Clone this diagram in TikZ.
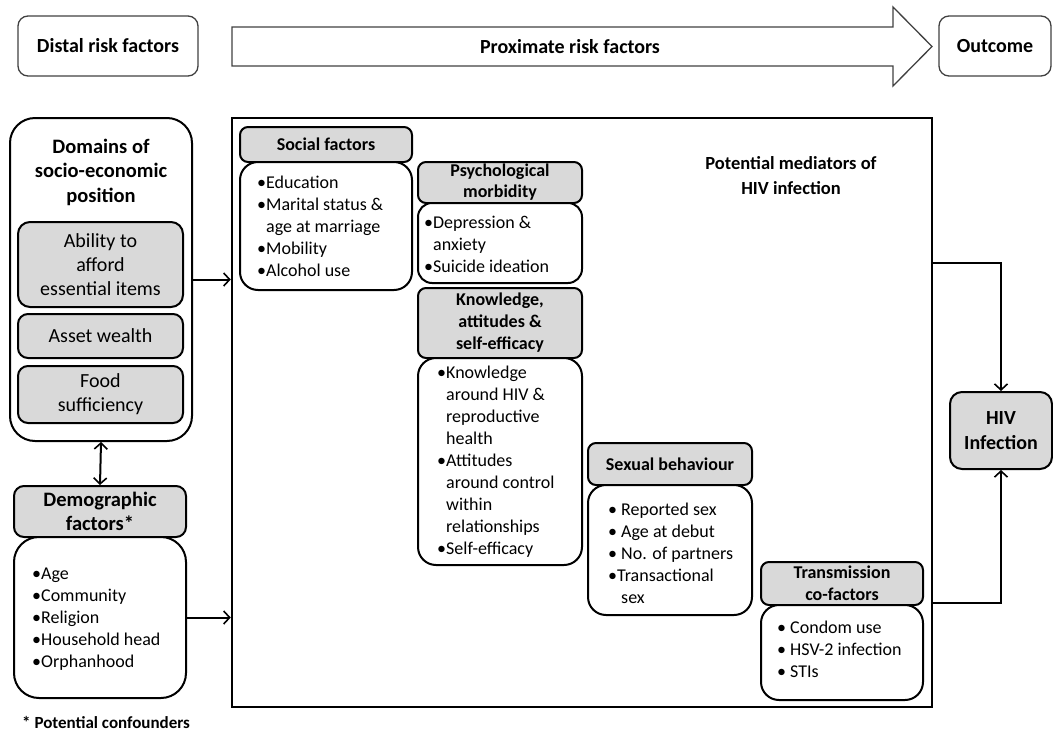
\documentclass[tikz,border=0pt]{standalone}
\usepackage{fontspec}
\setmainfont{Carlito}
\usetikzlibrary{arrows.meta,calc}
\definecolor{boxgray}{HTML}{D9D9D9}
\definecolor{topline}{HTML}{404040}
\newcommand\ind{\hphantom{•}}
\begin{document}
\begin{tikzpicture}[x=1pt,y=-1pt,
  topbox/.style={draw=topline, line width=1.3pt, rounded corners=10pt, inner sep=0pt,
    font=\fontsize{20}{24}\selectfont\bfseries},
  gbox/.style={draw, fill=boxgray, line width=2pt, rounded corners=8pt, inner sep=0pt, align=center},
  wbox/.style={draw, fill=white, line width=2pt, rounded corners=18pt, inner sep=0pt},
  ltext/.style={anchor=west, align=left, inner sep=0pt, font=\fontsize{18}{22}\selectfont},
  hfont/.style={font=\fontsize{18}{22}\selectfont\bfseries},
  lfont/.style={font=\fontsize{20}{24}\selectfont},
  arr/.style={line width=2pt, -{Straight Barb[length=6pt,width=13pt,line width=1.6pt]}},
  darr/.style={line width=2pt, {Straight Barb[length=6pt,width=13pt,line width=1.6pt]}-{Straight Barb[length=6pt,width=13pt,line width=1.6pt]}}
]
\useasboundingbox (0,0) rectangle (1053,734);

% top row
\node[topbox, minimum width=180, minimum height=60] (distal) at (108,46) {Distal risk factors};
\draw[draw=topline, line width=1.3pt] (232,27) -- (893,27) -- (893,7) -- (932,46.5) -- (893,86) -- (893,66) -- (232,66) -- cycle;
\node[font=\fontsize{20}{24}\selectfont\bfseries] (prox) at (570,46.5) {Proximate risk factors};
\node[topbox, minimum width=112, minimum height=60] (outcome) at (995,46) {Outcome};

% left column
\node[draw, line width=2pt, rounded corners=25pt, minimum width=182, minimum height=323, inner sep=0pt] (domains) at (101,279.5) {};
\node[align=center, font=\fontsize{20.5}{24.5}\selectfont\bfseries] (domtitle) at (101,172) {Domains of\\socio-economic\\position};
\node[gbox, lfont, minimum width=165, minimum height=85, rounded corners=12pt] (ability) at (100.5,264.5) {Ability to\\afford\\essential items};
\node[gbox, lfont, minimum width=165, minimum height=44, rounded corners=10pt] (asset) at (100.5,336) {Asset wealth};
\node[gbox, lfont, minimum width=165, minimum height=57, rounded corners=10pt] (food) at (100.5,394.5) {Food\\sufficiency};

\node[gbox, font=\fontsize{20.5}{24.5}\selectfont\bfseries, minimum width=172, minimum height=51, rounded corners=10pt] (demog) at (100,511.5) {Demographic\\factors*};
\node[wbox, rounded corners=25pt, minimum width=172, minimum height=161] (demlist) at (100,617.5) {};
\node[ltext] (demtext) at ($(demlist.west)+(19,1.5)$) {•Age\\•Community\\•Religion\\•Household head\\•Orphanhood};
\node[anchor=west, font=\fontsize{17}{20}\selectfont\bfseries, inner sep=0pt] (conf) at (22,722) {* Potential confounders};

\draw[darr] (domains.south) -- (demog.north);

% big box
\node[draw, line width=2.5pt, minimum width=700, minimum height=589, inner sep=0pt] (big) at (582,412.5) {};
\node[align=center, font=\fontsize{18.5}{25}\selectfont\bfseries] (medtitle) at (791,175.5) {Potential mediators of\\HIV infection};

\draw[arr] (domains.east) -- (domains.east -| big.west);
\draw[arr] (demlist.east) -- (demlist.east -| big.west);

% social
\node[gbox, hfont, minimum width=172, minimum height=35] (social) at (326,144.5) {Social factors};
\node[wbox, minimum width=172, minimum height=128] (soclist) at (326,226) {};
\node[ltext] (soctext) at ($(soclist.west)+(18,0)$) {•Education\\•Marital status \&\\\ind age at marriage\\•Mobility\\•Alcohol use};

% psychological
\node[gbox, minimum width=164, minimum height=41, font=\fontsize{18}{21}\selectfont\bfseries] (psych) at (500,182.5) {Psychological\\morbidity};
\node[wbox, rounded corners=14pt, minimum width=164, minimum height=80] (psylist) at (500,243) {};
\node[ltext] (psytext) at ($(psylist.west)+(7,1)$) {•Depression \&\\\ind anxiety\\•Suicide ideation};

% knowledge
\node[gbox, hfont, minimum width=164, minimum height=70] (know) at (500,323) {Knowledge,\\attitudes \&\\self-efficacy};
\node[wbox, minimum width=164, minimum height=207] (knowlist) at (500,461.5) {};
\node[ltext] (knowtext) at ($(knowlist.west)+(20,0)$) {•Knowledge\\\ind around HIV \&\\\ind reproductive\\\ind health\\•Attitudes\\\ind around control\\\ind within\\\ind relationships\\•Self-efficacy};

% sexual behaviour
\node[gbox, hfont, minimum width=164, minimum height=42] (sexual) at (670,464) {Sexual behaviour};
\node[wbox, minimum width=164, minimum height=130] (sexlist) at (670,550) {};
\node[ltext] (sextext) at ($(sexlist.west)+(21,3)$) {• Reported sex\\• Age at debut\\• No. of partners\\•Transactional\\\ind\ sex};

% transmission
\node[gbox, hfont, minimum width=162, minimum height=43] (trans) at (842,583.5) {Transmission\\co-factors};
\node[wbox, minimum width=162, minimum height=95] (translist) at (842,652.5) {};
\node[ltext] (transtext) at ($(translist.west)+(17,-3.5)$) {• Condom use\\• HSV-2 infection\\• STIs};

% outcome
\node[gbox, font=\fontsize{20}{25}\selectfont\bfseries, minimum width=102, minimum height=77, rounded corners=12pt] (hiv) at (1001,430.5) {HIV\\Infection};

\coordinate (ya) at (0,263);
\coordinate (yb) at (0,603);
\draw[arr] (big.east |- ya) -| (hiv.north);
\draw[arr] (big.east |- yb) -| (hiv.south);
\end{tikzpicture}
\end{document}
